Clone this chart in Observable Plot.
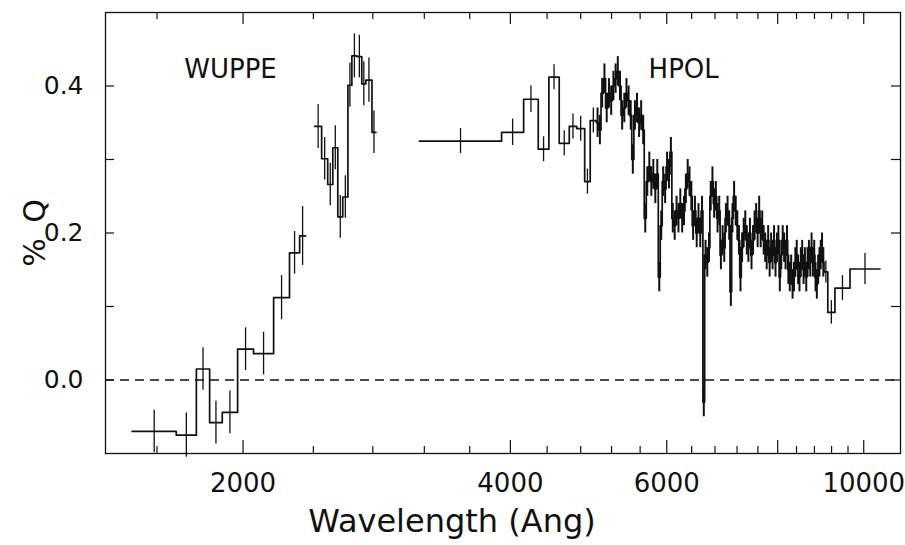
<!DOCTYPE html>
<html>
<head>
<meta charset="utf-8">
<script src="https://cdn.jsdelivr.net/npm/d3@7"></script>
<script src="https://cdn.jsdelivr.net/npm/@observablehq/plot@0.6"></script>
<style>
  body { margin: 0; background: #fff; }
  #chart svg { display: block; }
</style>
</head>
<body>
<div id="chart"></div>
<script>
// ---------- DATA ----------
// WUPPE, first segment: bin edges (Å), %Q per bin, 1-sigma errors
const wuppe1Edges = [1500, 1682, 1772, 1834, 1895, 1972, 2055, 2165, 2256, 2316, 2352];
const wuppe1Q     = [-0.070, -0.075, 0.015, -0.058, -0.044, 0.042, 0.036, 0.112, 0.173, 0.196];
const wuppe1Err   = [0.029, 0.030, 0.029, 0.029, 0.029, 0.029, 0.029, 0.030, 0.029, 0.040];

// WUPPE, second segment
const wuppe2Edges = [2408, 2452, 2491, 2524, 2557, 2590, 2625, 2652, 2687, 2721, 2750, 2794, 2823];
const wuppe2Q     = [0.345, 0.301, 0.266, 0.316, 0.222, 0.249, 0.401, 0.441, 0.440, 0.403, 0.408, 0.337];
const wuppe2Err   = [0.030, 0.029, 0.029, 0.030, 0.029, 0.029, 0.030, 0.030, 0.029, 0.030, 0.030, 0.029];

// HPOL, binned blue part
const hpolBlueEdges = [3160, 3910, 4140, 4300, 4420, 4540, 4660, 4750, 4850, 4920, 5000];
const hpolBlueQ     = [0.325, 0.337, 0.382, 0.314, 0.412, 0.322, 0.345, 0.342, 0.270, 0.353];
const hpolBlueErr   = [0.017, 0.018, 0.018, 0.017, 0.017, 0.017, 0.017, 0.017, 0.017, 0.017];

// HPOL, full-resolution part: bin start wavelengths (Å) and %Q
const hpolDenseWave = [
  5000, 5030, 5060, 5090, 5120, 5150, 5180, 5210, 5240, 5270, 5300, 5330, 5360, 5390, 5420, 5450,
  5480, 5510, 5540, 5570, 5600, 5630, 5660, 5690, 5720, 5750, 5780, 5810, 5840, 5870, 5900, 5930,
  5960, 5990, 6020, 6050, 6080, 6110, 6140, 6170, 6200, 6230, 6260, 6290, 6320, 6350, 6380, 6410,
  6440, 6470, 6500, 6530, 6560, 6590, 6620, 6650, 6680, 6710, 6740, 6770, 6800, 6830, 6860, 6890,
  6920, 6950, 6980, 7010, 7040, 7070, 7100, 7130, 7160, 7190, 7220, 7250, 7280, 7310, 7340, 7370,
  7400, 7430, 7460, 7490, 7520, 7550, 7580, 7610, 7640, 7670, 7700, 7730, 7760, 7790, 7820, 7850,
  7880, 7910, 7940, 7970, 8000, 8030, 8060, 8090, 8120, 8150, 8180, 8210, 8240, 8270, 8300, 8330,
  8360, 8390, 8420, 8450, 8480, 8510, 8540, 8570, 8600, 8630, 8660, 8690, 8720, 8750, 8780, 8810,
  8840, 8870, 8900, 8930, 8960, 8990
];
const hpolDenseQ = [
  0.35, 0.34, 0.39, 0.41, 0.37, 0.39, 0.38, 0.40, 0.41, 0.42, 0.40, 0.36, 0.37, 0.39, 0.38, 0.36,
  0.30, 0.36, 0.37, 0.35, 0.36, 0.34, 0.22, 0.27, 0.29, 0.27, 0.28, 0.26, 0.28, 0.14, 0.21, 0.27,
  0.26, 0.29, 0.28, 0.31, 0.22, 0.21, 0.23, 0.22, 0.24, 0.22, 0.23, 0.26, 0.28, 0.27, 0.25, 0.21,
  0.23, 0.20, 0.22, 0.20, 0.23, -0.03, 0.17, 0.16, 0.18, 0.25, 0.27, 0.24, 0.25, 0.22, 0.23, 0.17,
  0.19, 0.18, 0.22, 0.23, 0.21, 0.12, 0.22, 0.25, 0.23, 0.21, 0.19, 0.14, 0.18, 0.20, 0.21, 0.19,
  0.18, 0.20, 0.17, 0.19, 0.21, 0.22, 0.20, 0.23, 0.20, 0.21, 0.19, 0.18, 0.17, 0.19, 0.16, 0.18,
  0.17, 0.19, 0.16, 0.18, 0.19, 0.14, 0.17, 0.19, 0.18, 0.17, 0.19, 0.15, 0.14, 0.15, 0.13, 0.14,
  0.16, 0.17, 0.15, 0.14, 0.16, 0.17, 0.15, 0.16, 0.14, 0.16, 0.17, 0.16, 0.18, 0.16, 0.17, 0.14,
  0.13, 0.15, 0.16, 0.17, 0.18, 0.16
];
const hpolDenseErr = 0.02;

// HPOL, binned red part
const hpolRedEdges = [9020, 9110, 9280, 9650, 10430];
const hpolRedQ     = [0.147, 0.092, 0.125, 0.151];
const hpolRedErr   = [0.015, 0.016, 0.017, 0.021];

// Axis ticks and labels
const xMajorTicks = [2000, 4000, 6000, 8000, 10000];
const xMinorTicks = [1600, 2400, 2800, 3200, 3600, 4400, 4800, 5200, 5600, 6400, 6800, 7200, 7600, 8400, 8800, 9200, 9600];
const xTickLabels = [2000, 4000, 6000, 10000];
const yTicks = [0.0, 0.1, 0.2, 0.3, 0.4];
const yTickLabels = [0.0, 0.2, 0.4];
const instrumentLabels = [
  {name: "WUPPE", wave: 1936, q: 0.422},
  {name: "HPOL", wave: 6270, q: 0.422}
];
const xTitle = "Wavelength (Ang)";
const yTitle = "%\u2009 Q";

// ---------- BUILD ----------
function binsFromEdges(edges, q, err, seg) {
  return q.map((v, i) => ({seg, lo: edges[i], hi: edges[i + 1], q: v, err: err[i]}));
}
const wuppe1 = binsFromEdges(wuppe1Edges, wuppe1Q, wuppe1Err, "w1");
const wuppe2 = binsFromEdges(wuppe2Edges, wuppe2Q, wuppe2Err, "w2");
const hpolBlue = binsFromEdges(hpolBlueEdges, hpolBlueQ, hpolBlueErr, "h");
const hpolDense = hpolDenseQ.map((v, i) => ({
  seg: "h", lo: hpolDenseWave[i],
  hi: i + 1 < hpolDenseWave.length ? hpolDenseWave[i + 1] : hpolRedEdges[0],
  q: v, err: hpolDenseErr
}));
const hpolRed = binsFromEdges(hpolRedEdges, hpolRedQ, hpolRedErr, "h");
const hpol = [...hpolBlue, ...hpolDense, ...hpolRed];

function stepPoints(bins) {
  const pts = bins.map(b => ({seg: b.seg, x: b.lo, y: b.q}));
  const last = bins[bins.length - 1];
  pts.push({seg: last.seg, x: last.hi, y: last.q});
  return pts;
}
const stepData = [...stepPoints(wuppe1), ...stepPoints(wuppe2), ...stepPoints(hpol)];
const coarseBins = [...wuppe1, ...wuppe2, ...hpolBlue, ...hpolRed];

// ---------- LAYOUT ----------
const W = 905, H = 545;
const mt = 12, mb = 92, ml = 105, mr = 5;
const frameH = H - mt - mb, frameW = W - ml - mr;
const ink = "#111";
const center = d => Math.sqrt(d.lo * d.hi);

const chart = Plot.plot({
  width: W, height: H,
  marginTop: mt, marginBottom: mb, marginLeft: ml, marginRight: mr,
  style: {fontFamily: "DejaVu Sans", fontSize: "24px", color: ink, background: "#fff"},
  x: {type: "log", domain: [1400, 11000]},
  y: {domain: [-0.1, 0.5]},
  marks: [
    Plot.ruleY([0], {stroke: ink, strokeWidth: 1.3, strokeDasharray: "9,6"}),
    Plot.ruleX(coarseBins, {x: center, y1: d => d.q - d.err, y2: d => d.q + d.err, stroke: ink, strokeWidth: 1.3}),
    Plot.ruleX(hpolDense, {x: center, y1: d => d.q - d.err, y2: d => d.q + d.err, stroke: ink, strokeWidth: 2}),
    Plot.line(stepData, {x: "x", y: "y", z: "seg", curve: "step-after", stroke: ink, strokeWidth: 1.7}),
    Plot.frame({stroke: ink, strokeWidth: 1.3}),
    // inward ticks
    Plot.ruleX(xMajorTicks, {insetTop: frameH - 13, stroke: ink, strokeWidth: 1.2}),
    Plot.ruleX(xMinorTicks, {insetTop: frameH - 7, stroke: ink, strokeWidth: 1.2}),
    Plot.ruleX(xMajorTicks, {insetBottom: frameH - 12, stroke: ink, strokeWidth: 1.2}),
    Plot.ruleX(xMinorTicks, {insetBottom: frameH - 7, stroke: ink, strokeWidth: 1.2}),
    Plot.ruleY(yTicks, {insetRight: frameW - 9, stroke: ink, strokeWidth: 1.2}),
    Plot.ruleY(yTicks, {insetLeft: frameW - 9, stroke: ink, strokeWidth: 1.2}),
    // tick labels
    Plot.axisX(xTickLabels, {tickSize: 0, tickPadding: 20, tickFormat: d => String(d), fontSize: 26, fill: ink, label: null}),
    Plot.axisY(yTickLabels, {tickSize: 0, tickPadding: 22, tickFormat: d3.format(".1f"), fontSize: 25, fill: ink, label: null}),
    // titles
    Plot.text([xTitle], {frameAnchor: "bottom", lineAnchor: "middle", textAnchor: "middle", dx: -51, dy: 68, fontSize: 32, fill: ink}),
    Plot.text([yTitle], {frameAnchor: "left", lineAnchor: "middle", textAnchor: "middle", dx: -70, rotate: -90, fontSize: 30, fill: ink}),
    // instrument labels
    Plot.text(instrumentLabels, {x: "wave", y: "q", text: "name", fontSize: 26, fill: ink})
  ]
});
document.getElementById("chart").appendChild(chart);
</script>
</body>
</html>
